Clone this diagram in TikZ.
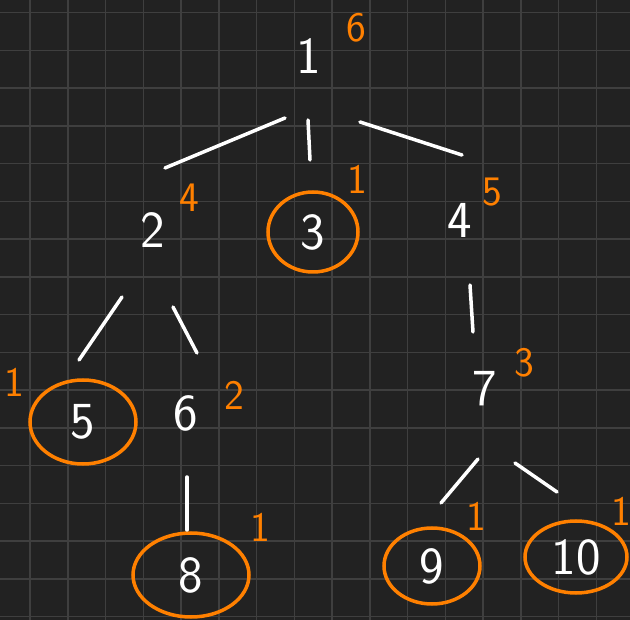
\documentclass[tikz,border=0pt]{standalone}
\usepackage{tikz}
\usetikzlibrary{shapes.geometric}

\definecolor{boardbg}{HTML}{222222}
\definecolor{boardgrid}{HTML}{3F3F3F}
\definecolor{penorange}{HTML}{FF8000}

\begin{document}
\begin{tikzpicture}[x=1pt, y=-1pt,
    num/.style={text=white, font=\fontsize{52}{52}\selectfont\sffamily, inner sep=0pt},
    cnt/.style={text=penorange, font=\fontsize{42}{42}\selectfont\sffamily, inner sep=0pt},
    ring/.style={num, draw=penorange, line width=3.5pt, ellipse},
    edge/.style={white, line width=3.5pt, line cap=round}]

    % BOARD
    \useasboundingbox (0,0) rectangle (630,620);
    \fill[boardbg] (0,0) rectangle (630,620);
    \foreach \i in {0,...,15}
        \draw[boardgrid, line width=1.5pt] ({30+37.75*\i},0) -- ({30+37.75*\i},620);
    \foreach \i in {0,...,16}
        \draw[boardgrid, line width=1.5pt] (0,{12.7+37.75*\i}) -- (630,{12.7+37.75*\i});

    % TREE NODES
    \node[num] (root) at (309,56) {1};
    \node[num] (n2) at (153,230) {2};
    \node[ring, minimum width=90, minimum height=80] (n3) at (313,232) {3};
    \node[num] (n4) at (460,220) {4};
    \node[ring, minimum width=106, minimum height=84] (n5) at (83,422) {5};
    \node[num] (n6) at (186,413) {6};
    \node[num] (n7) at (485,389) {7};
    \node[ring, minimum width=116, minimum height=84] (n8) at (191,575) {8};
    \node[ring, minimum width=96, minimum height=76] (n9) at (432,566) {9};
    \node[ring, minimum width=102, minimum height=72] (n10) at (576,557) {10};

    % SUBTREE SIZES
    \node[cnt] (c1) at (356,28) {6};
    \node[cnt] (c2) at (189,198) {4};
    \node[cnt] (c3) at (357,179) {1};
    \node[cnt] (c4) at (492,192) {5};
    \node[cnt] (c5) at (14,382) {1};
    \node[cnt] (c6) at (234,395) {2};
    \node[cnt] (c7) at (524,363) {3};
    \node[cnt] (c8) at (260,527) {1};
    \node[cnt] (c9) at (476,516) {1};
    \node[cnt] (c10) at (621,511) {1};

    % EDGES
    \draw[edge] ([shift={(-24,62)}]root.center) -- ([shift={(12,-62)}]n2.center);
    \draw[edge] ([shift={(-1,64)}]root.center) -- ([shift={(-3,-72)}]n3.center);
    \draw[edge] ([shift={(51,66)}]root.center) -- ([shift={(2,-65)}]n4.center);
    \draw[edge] ([shift={(-31,67)}]n2.center) -- ([shift={(-4,-62)}]n5.center);
    \draw[edge] ([shift={(20,77)}]n2.center) -- ([shift={(11,-60)}]n6.center);
    \draw[edge] ([shift={(10,65)}]n4.center) -- ([shift={(-12,-57)}]n7.center);
    \draw[edge] ([shift={(1,64)}]n6.center) -- ([shift={(-4,-45)}]n8.center);
    \draw[edge] ([shift={(-7,70)}]n7.center) -- ([shift={(9,-63)}]n9.center);
    \draw[edge] ([shift={(30,74)}]n7.center) -- ([shift={(-19,-65)}]n10.center);

\end{tikzpicture}
\end{document}
